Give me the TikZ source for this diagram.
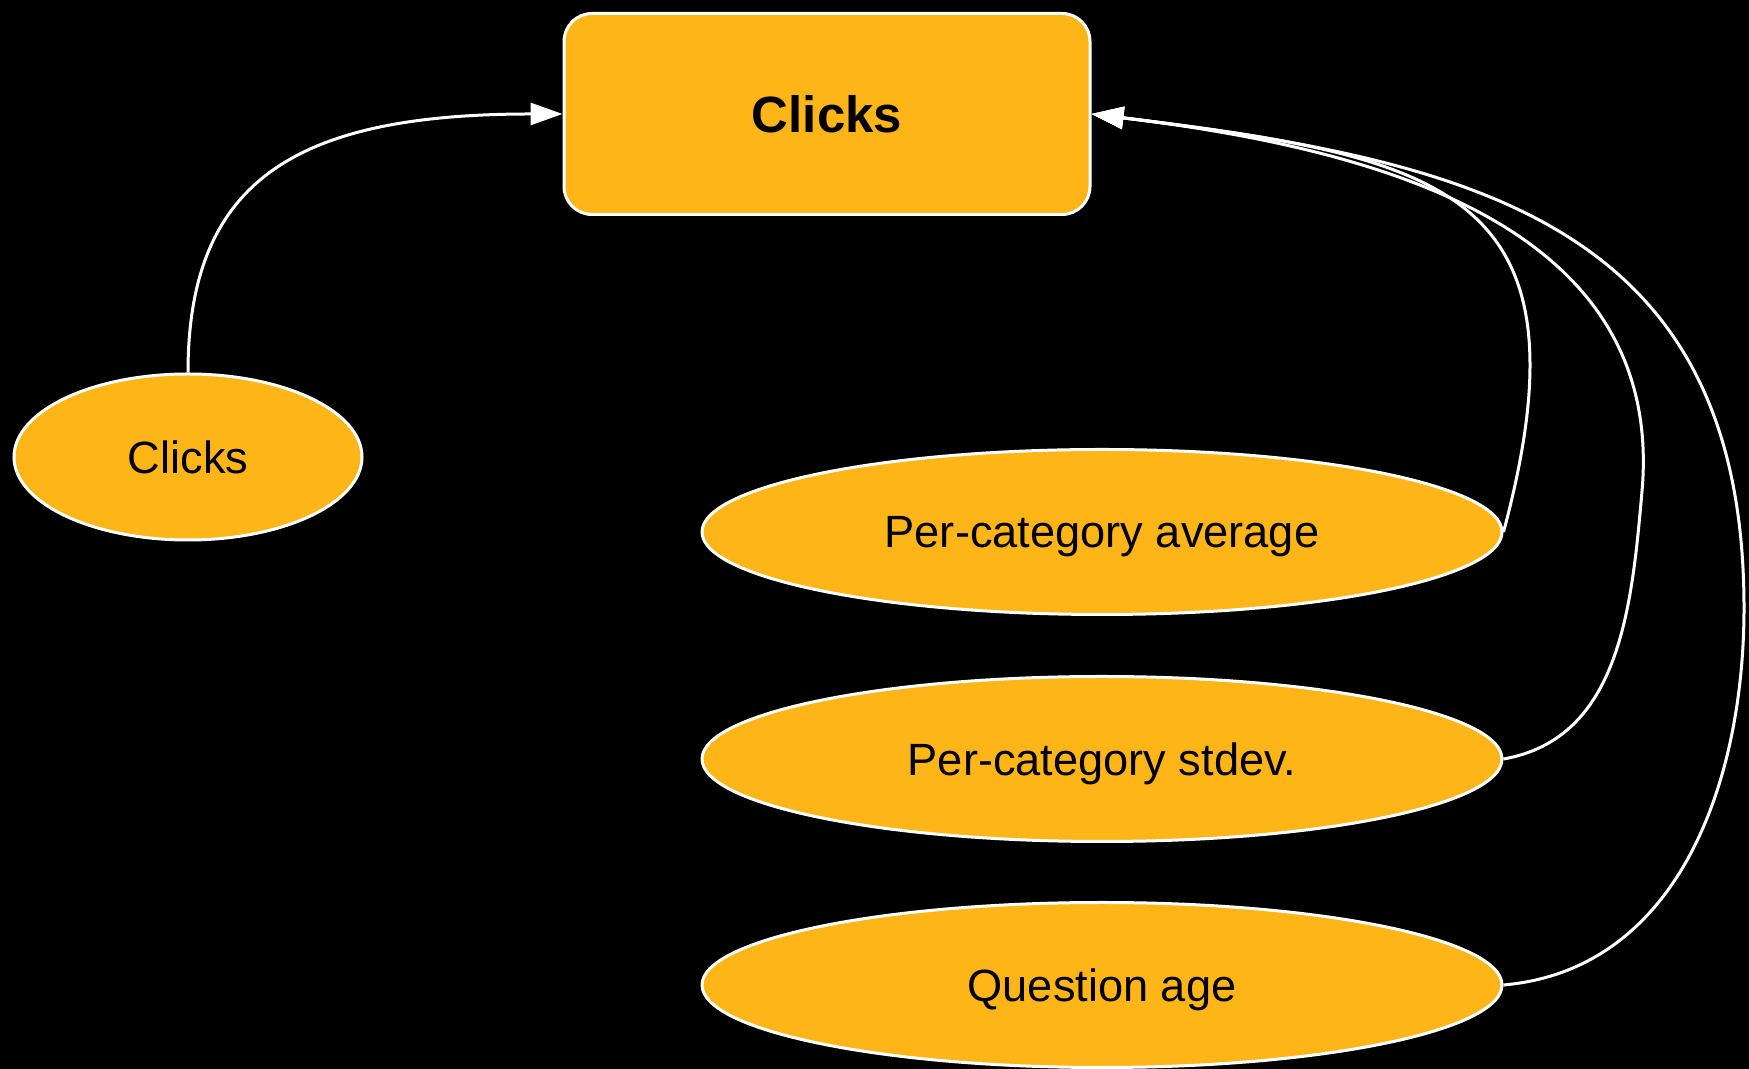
\documentclass[tikz,border=0pt]{standalone}
\usepackage{fontspec}
\setmainfont{Liberation Sans}
\usetikzlibrary{shapes.geometric,arrows.meta}
\definecolor{boxorange}{RGB}{253,181,24}
\tikzset{
  feat/.style={ellipse, draw=white, line width=1.5pt, fill=boxorange, inner sep=0pt, text depth=0pt,
    minimum width=400pt, minimum height=82.5pt, font=\fontsize{22.6}{27}\selectfont},
  target/.style={rectangle, rounded corners=14pt, draw=white, line width=1.5pt, fill=boxorange,
    minimum width=263pt, minimum height=100.5pt, font=\bfseries\fontsize{25.5}{30}\selectfont},
  link/.style={white, line width=1.5pt, -{Triangle[length=16pt,width=11pt]}}
}
\begin{document}
\begin{tikzpicture}[x=0.5pt,y=0.5pt]
    \fill[black] (0,0) rectangle (1749,1069);
    \node (T) at (827,955)[target]{Clicks};
    \node (C) at (188,612)[feat, minimum width=174pt, minimum height=83pt]{Clicks};
    \node (A) at (1102,537)[feat]{Per-category average};
    \node (S) at (1102,310)[feat]{Per-category stdev.};
    \node (Q) at (1102,84)[feat]{Question age};
    \draw[link] (C.north) .. controls +(0,194) and +(-264,0) .. (T.west);
    \draw[link] (A.east) to[out=75,in=-7,looseness=1.55] (T.east);
    \draw[link] (S.east) to[out=10,in=-95] (1642,578) to[out=85,in=-7,looseness=1.05] (T.east);
    \draw[link] (Q.east) to[out=5,in=-90] (1744,461) to[out=90,in=-7,looseness=1.2] (T.east);
\end{tikzpicture}
\end{document}
